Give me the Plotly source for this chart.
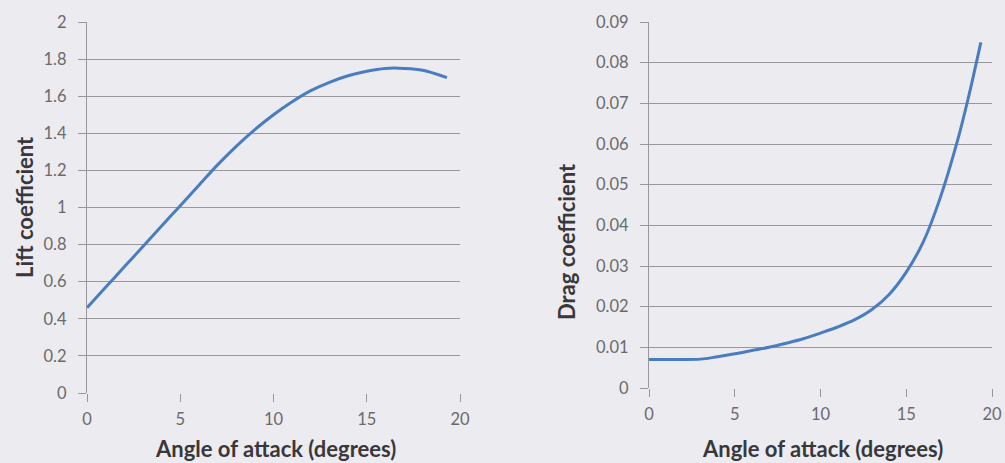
import plotly.graph_objects as go

angle_lift = [0, 1, 2, 3, 4, 5, 6, 7, 8, 9, 10, 11, 12, 13, 14, 15, 16, 17, 18, 19.3]
lift_coef = [0.46, 0.57, 0.68, 0.79, 0.90, 1.01, 1.12, 1.23, 1.33, 1.42, 1.50, 1.57, 1.63, 1.675, 1.71, 1.735, 1.75, 1.75, 1.74, 1.70]

angle_drag = [0, 1, 2, 3, 4, 5, 6, 7, 8, 9, 10, 11, 12, 13, 14, 15, 16, 17, 18, 18.6, 19.35]
drag_coef = [0.007, 0.007, 0.007, 0.0071, 0.0077, 0.0084, 0.0092, 0.0100, 0.0110, 0.0121, 0.0135, 0.0150, 0.0168, 0.0193, 0.0230, 0.0285, 0.036, 0.047, 0.061, 0.071, 0.085]

lift_ticks = [0, 0.2, 0.4, 0.6, 0.8, 1, 1.2, 1.4, 1.6, 1.8, 2]
lift_ticklabels = ["0", "0.2", "0.4", "0.6", "0.8", "1", "1.2", "1.4", "1.6", "1.8", "2"]
drag_ticks = [0, 0.01, 0.02, 0.03, 0.04, 0.05, 0.06, 0.07, 0.08, 0.09]
drag_ticklabels = ["0", "0.01", "0.02", "0.03", "0.04", "0.05", "0.06", "0.07", "0.08", "0.09"]
x_ticks = [0, 5, 10, 15, 20]

BG = "#ecebef"
GRID = "#98989c"
LINE = "#4a7cc0"
TICKFONT = dict(family="Lato, Open Sans, sans-serif", size=16.5, color="#6a6a6e")
TITLEFONT = dict(family="Lato, Open Sans, sans-serif", size=22, color="#38383b")

fig = go.Figure()
fig.add_trace(go.Scatter(x=angle_lift, y=lift_coef, mode="lines", line=dict(color=LINE, width=3, shape="spline"),
                         xaxis="x", yaxis="y", showlegend=False, hoverinfo="skip"))
fig.add_trace(go.Scatter(x=angle_drag, y=drag_coef, mode="lines", line=dict(color=LINE, width=3, shape="spline"),
                         xaxis="x2", yaxis="y2", showlegend=False, hoverinfo="skip"))

common_x = dict(range=[0, 20], tickvals=x_ticks, showgrid=False, zeroline=False, showline=False, automargin=False,
                ticks="outside", ticklen=8, tickcolor=GRID, tickfont=TICKFONT, ticklabelstandoff=3)
common_y = dict(showgrid=True, gridcolor=GRID, gridwidth=1.2, zeroline=False, showline=True, linecolor=GRID,
                linewidth=1.2, automargin=False,
                ticks="outside", ticklen=8, tickcolor=GRID, tickfont=TICKFONT, ticklabelstandoff=8)

W, H = 1005, 463
ann = dict(xref="paper", yref="paper", showarrow=False, font=TITLEFONT, xanchor="center", yanchor="middle")
fig.update_layout(
    width=W, height=H,
    margin=dict(l=0, r=0, t=0, b=0),
    paper_bgcolor=BG, plot_bgcolor=BG,
    xaxis=dict(domain=[87 / W, 460 / W], anchor="y", **common_x),
    yaxis=dict(domain=[(H - 393) / H, (H - 22) / H], anchor="x", range=[0, 2], tickvals=lift_ticks,
               ticktext=lift_ticklabels, **common_y),
    xaxis2=dict(domain=[649 / W, 992 / W], anchor="y2", **common_x),
    yaxis2=dict(domain=[(H - 388) / H, (H - 22) / H], anchor="x2", range=[0, 0.09], tickvals=drag_ticks,
                ticktext=drag_ticklabels, **common_y),
    annotations=[
        dict(text="<b>Angle of attack (degrees)</b>", x=275 / W, y=(H - 448) / H, **ann),
        dict(text="<b>Angle of attack (degrees)</b>", x=822 / W, y=(H - 448) / H, **ann),
        dict(text="<b>Lift coefficient</b>", x=25 / W, y=(H - 207) / H, textangle=-90, **ann),
        dict(text="<b>Drag coefficient</b>", x=567 / W, y=(H - 242) / H, textangle=-90, **ann),
    ],
)

fig.write_html("out.html", config={"displayModeBar": False},
               post_script="document.body.style.margin='0';document.body.style.overflow='hidden';")
